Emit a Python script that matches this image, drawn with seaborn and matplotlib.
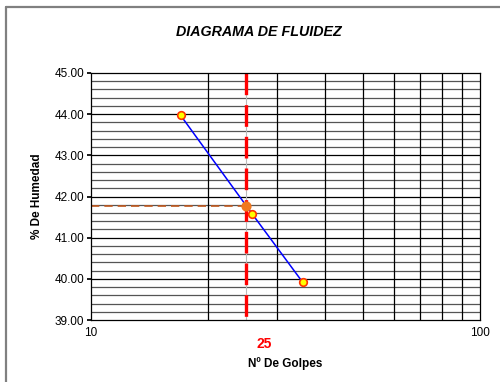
import matplotlib
matplotlib.use('Agg')
import matplotlib.pyplot as plt
import seaborn as sns
import numpy as np
import pandas as pd
from matplotlib.ticker import FixedLocator, NullLocator, FormatStrFormatter
from matplotlib.lines import Line2D

sns.set_theme(style="white")
plt.rcParams['font.family'] = ['Liberation Sans', 'DejaVu Sans']
plt.rcParams['text.color'] = 'black'
plt.rcParams['axes.labelcolor'] = 'black'
plt.rcParams['xtick.color'] = 'black'
plt.rcParams['ytick.color'] = 'black'

# Datos del ensayo
golpes = [17, 26, 35]
humedad = [43.97, 41.57, 39.92]
golpes_ref = 25
humedad_ref = 41.78

df = pd.DataFrame({'golpes': golpes, 'humedad': humedad})

fig = plt.figure(figsize=(5, 3.82), dpi=100)
ax = fig.add_axes([0.182, 0.162, 0.778, 0.647])

# borde del grafico (solo arriba e izquierda visibles)
fig.add_artist(Line2D([0.012, 1.0], [0.982, 0.982], color='#808080', lw=1.6, transform=fig.transFigure))
fig.add_artist(Line2D([0.012, 0.012], [0.0, 0.982], color='#808080', lw=1.6, transform=fig.transFigure))

ax.set_xscale('log')
ax.set_xlim(10, 100)
ax.set_ylim(39, 45)

# rejilla
for y in np.arange(39.2, 45, 0.2):
    major = abs(y - round(y)) < 1e-6
    ax.axhline(y, color='black' if major else '#555555', lw=0.9, zorder=0)
for x in range(20, 100, 10):
    ax.axvline(x, color='black', lw=0.9, zorder=0)
ax.axvline(golpes_ref, color='#bbbbbb', lw=0.8, zorder=0)

# linea de referencia
ax.plot([golpes_ref, golpes_ref], [45, 39], color='red', lw=2.4, ls=(0, (6.5, 3.0)), zorder=2)
ax.plot([10, golpes_ref], [humedad_ref, humedad_ref], color='#c0581e', lw=1.2, ls=(0, (5, 3)), zorder=2)

sns.lineplot(data=df, x='golpes', y='humedad', color='blue', lw=1.1, ax=ax, zorder=3)
sns.scatterplot(data=df, x='golpes', y='humedad', color='yellow', edgecolor='#ff3300',
                s=30, linewidth=1.2, ax=ax, zorder=4)
ax.scatter([golpes_ref], [humedad_ref], color='#f07820', s=40, zorder=4)

ax.xaxis.set_major_locator(FixedLocator([10, 100]))
ax.xaxis.set_minor_locator(NullLocator())
ax.set_xticklabels(['10', '100'])
ax.yaxis.set_major_locator(FixedLocator(np.arange(39, 45.1, 1)))
ax.yaxis.set_major_formatter(FormatStrFormatter('%.2f'))
ax.tick_params(axis='both', labelsize=8.5, length=3, color='black', left=True, bottom=False, pad=2)

for s in ax.spines.values():
    s.set_color('black')
    s.set_linewidth(0.9)

ax.annotate('25', xy=(golpes_ref, 39), xytext=(13, -17), textcoords='offset points',
            color='red', fontsize=10, fontweight='bold', ha='center', va='center')
ax.set_xlabel('Nº De Golpes', fontsize=8.5, fontweight='bold', labelpad=13)
ax.set_ylabel('% De Humedad', fontsize=8.5, fontweight='bold', labelpad=8)
fig.text(0.517, 0.916, 'DIAGRAMA DE FLUIDEZ', fontsize=10.3, fontweight='bold', style='italic',
         ha='center', va='center')

fig.savefig('out.png', dpi=100)
